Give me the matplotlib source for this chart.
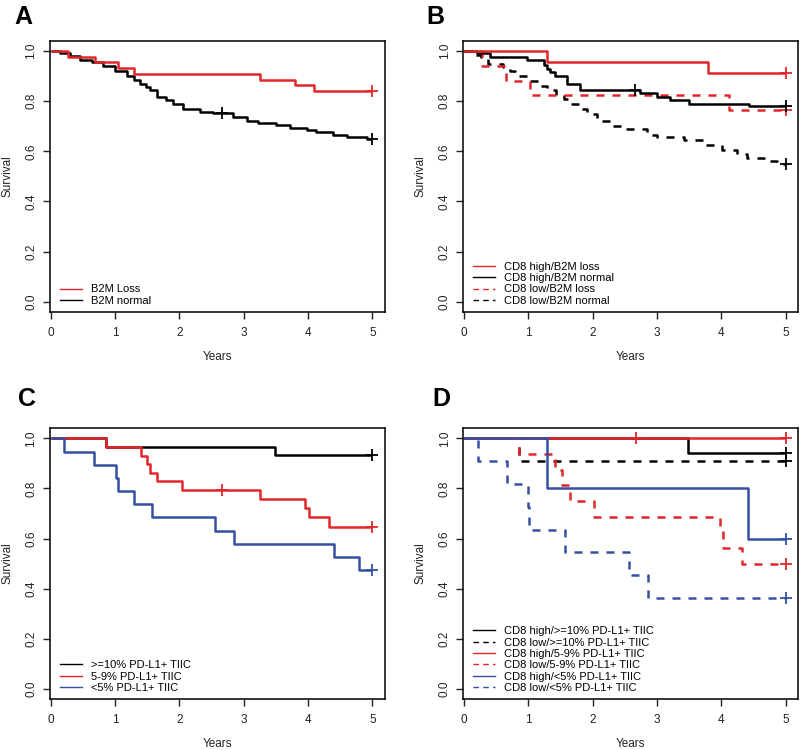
import matplotlib
matplotlib.use("Agg")
import matplotlib.pyplot as plt
from matplotlib.lines import Line2D

plt.rcParams['font.family'] = ['Liberation Sans', 'DejaVu Sans']

# ---------------- data ----------------
# Panel A
a_loss_t = [0.27, 0.69, 1.04, 1.30, 3.25, 3.80, 4.10]
a_loss_s = [0.977, 0.955, 0.932, 0.909, 0.886, 0.864, 0.841]
a_loss_c = [5.0]
a_norm_t = [0.15, 0.30, 0.46, 0.64, 0.82, 1.00, 1.18, 1.30, 1.39, 1.48, 1.54, 1.65,
            1.80, 1.90, 2.06, 2.32, 2.53, 2.84, 3.05, 3.23, 3.51, 3.72, 3.98, 4.13,
            4.39, 4.60, 4.91]
a_norm_s = [0.99, 0.98, 0.965, 0.955, 0.94, 0.92, 0.90, 0.885, 0.87, 0.855, 0.845, 0.815,
            0.806, 0.788, 0.768, 0.758, 0.751, 0.738, 0.722, 0.712, 0.704, 0.694, 0.686,
            0.677, 0.663, 0.655, 0.648]
a_norm_c = [2.67, 5.0]
a_labels = ["B2M Loss", "B2M normal"]

# Panel B
b_hl_t = [1.29, 3.80]
b_hl_s = [0.956, 0.912]
b_hl_c = [5.0]
b_hn_t = [0.20, 0.40, 0.98, 1.24, 1.29, 1.34, 1.42, 1.60, 1.80, 2.74, 3.00, 3.20, 3.50, 4.43]
b_hn_s = [0.99, 0.974, 0.963, 0.945, 0.93, 0.915, 0.90, 0.87, 0.845, 0.832, 0.817, 0.803,
          0.79, 0.779]
b_hn_c = [2.66, 5.0]
b_ll_t = [0.28, 0.66, 1.03, 4.12]
b_ll_s = [0.941, 0.882, 0.824, 0.765]
b_ll_c = [5.0]
b_ln_t = [0.18, 0.27, 0.38, 0.61, 0.72, 0.80, 1.00, 1.18, 1.29, 1.44, 1.55, 1.65, 1.80,
          1.91, 2.07, 2.27, 2.53, 2.85, 3.00, 3.42, 3.73, 4.01, 4.25, 4.40, 4.66, 4.87]
b_ln_s = [0.985, 0.97, 0.95, 0.935, 0.92, 0.90, 0.88, 0.86, 0.845, 0.825, 0.81, 0.79,
          0.77, 0.75, 0.72, 0.70, 0.69, 0.665, 0.655, 0.645, 0.625, 0.605, 0.59, 0.575,
          0.562, 0.55]
b_ln_c = [5.0]
b_labels = ["CD8 high/B2M loss", "CD8 high/B2M normal", "CD8 low/B2M loss", "CD8 low/B2M normal"]

# Panel C
c_hi_t = [0.86, 3.49]
c_hi_s = [0.967, 0.933]
c_hi_c = [5.0]
c_mid_t = [0.86, 1.41, 1.49, 1.54, 1.65, 2.04, 3.25, 3.95, 4.02, 4.33]
c_mid_s = [0.966, 0.931, 0.897, 0.862, 0.828, 0.793, 0.757, 0.722, 0.686, 0.648]
c_mid_c = [2.67, 5.0]
c_lo_t = [0.21, 0.68, 1.02, 1.04, 1.30, 1.58, 2.55, 2.85, 4.40, 4.80]
c_lo_s = [0.947, 0.895, 0.842, 0.789, 0.737, 0.684, 0.632, 0.579, 0.526, 0.474]
c_lo_c = [5.0]
c_labels = [">=10% PD-L1+ TIIC", "5-9% PD-L1+ TIIC", "<5% PD-L1+ TIIC"]

# Panel D
d_hh_t = [3.48]
d_hh_s = [0.941]
d_hh_c = [5.0]
d_lh_t = [0.86]
d_lh_s = [0.909]
d_lh_c = [5.0]
d_hm_t = []
d_hm_s = []
d_hm_c = [2.67, 5.0]
d_lm_t = [0.86, 1.42, 1.53, 1.65, 2.03, 3.98, 4.03, 4.33]
d_lm_s = [0.9375, 0.875, 0.8125, 0.75, 0.6875, 0.625, 0.5625, 0.5]
d_lm_c = [5.0]
d_hl_t = [1.29, 4.42]
d_hl_s = [0.8, 0.6]
d_hl_c = [5.0]
d_ll_t = [0.22, 0.67, 1.00, 1.02, 1.57, 2.56, 2.86]
d_ll_s = [0.909, 0.818, 0.727, 0.636, 0.545, 0.455, 0.364]
d_ll_c = [5.0]
d_labels = ["CD8 high/>=10% PD-L1+ TIIC", "CD8 low/>=10% PD-L1+ TIIC",
            "CD8 high/5-9% PD-L1+ TIIC", "CD8 low/5-9% PD-L1+ TIIC",
            "CD8 high/<5% PD-L1+ TIIC", "CD8 low/<5% PD-L1+ TIIC"]

x_ticks = [0, 1, 2, 3, 4, 5]
y_ticks = [0.0, 0.2, 0.4, 0.6, 0.8, 1.0]
END = 5.0

# ---------------- style ----------------
RED = '#E3262A'
BLUE = '#3550A2'
BLACK = '#000000'
LW = 1.8
DASH = (3.2, 3.2)


def km(ax, t, s, c, color, dashed=False):
    xs = [0.0] + list(t) + [END]
    ys = [1.0] + list(s) + [s[-1] if len(s) else 1.0]
    ln, = ax.step(xs, ys, where='post', color=color, lw=LW, solid_capstyle='butt')
    if dashed:
        ln.set_dashes(DASH)
    # censor marks
    for ct in c:
        val = 1.0
        for tt, ss in zip(t, s):
            if tt <= ct:
                val = ss
        ax.plot([ct], [val], marker='+', ms=9, mew=1.3, color=color, ls='none')


def setup(ax):
    ax.set_xlim(-0.01, 5.2)
    ax.set_ylim(-0.04, 1.04)
    ax.set_xticks(x_ticks)
    ax.set_xticklabels([str(v) for v in x_ticks])
    ax.set_yticks(y_ticks)
    ax.set_yticklabels(["%.1f" % v for v in y_ticks], rotation=90, va='center')
    ax.tick_params(axis='both', direction='out', length=5, width=1, labelsize=8.5, colors='#222222')
    ax.tick_params(axis='x', pad=6)
    ax.tick_params(axis='y', pad=4)
    for sp in ax.spines.values():
        sp.set_linewidth(1.1)
    ax.set_xlabel('Years', fontsize=8.5, color='#222222')
    ax.set_ylabel('Survival', fontsize=8.5, color='#222222')
    ax.xaxis.set_label_coords(0.5, -0.167)
    ax.xaxis.label.set_va('center')
    ax.yaxis.set_label_coords(-0.127, 0.5)
    ax.yaxis.label.set_va('center')


def legend(ax, labels, colors, dashes):
    handles = []
    for lab, col, d in zip(labels, colors, dashes):
        h = Line2D([0], [0], color=col, lw=1.0)
        if d:
            h.set_dashes((4, 3))
        handles.append(h)
    ax.legend(handles, labels, loc='lower left', bbox_to_anchor=(0.03, 0.022),
              frameon=False, fontsize=8, handlelength=2.0, handletextpad=0.8,
              labelspacing=0.12, borderpad=0, borderaxespad=0)


fig = plt.figure(figsize=(8, 7.5), dpi=100)
W, H = 0.419, 0.361
axA = fig.add_axes([0.0625, 0.5844, W, H])
axB = fig.add_axes([0.579, 0.5844, W, H])
axC = fig.add_axes([0.0625, 0.068, W, H])
axD = fig.add_axes([0.579, 0.068, W, H])

# A
km(axA, a_norm_t, a_norm_s, a_norm_c, BLACK)
km(axA, a_loss_t, a_loss_s, a_loss_c, RED)
setup(axA)
legend(axA, a_labels, [RED, BLACK], [False, False])

# B
km(axB, b_ln_t, b_ln_s, b_ln_c, BLACK, dashed=True)
km(axB, b_ll_t, b_ll_s, b_ll_c, RED, dashed=True)
km(axB, b_hn_t, b_hn_s, b_hn_c, BLACK)
km(axB, b_hl_t, b_hl_s, b_hl_c, RED)
setup(axB)
legend(axB, b_labels, [RED, BLACK, RED, BLACK], [False, False, True, True])

# C
km(axC, c_hi_t, c_hi_s, c_hi_c, BLACK)
km(axC, c_mid_t, c_mid_s, c_mid_c, RED)
km(axC, c_lo_t, c_lo_s, c_lo_c, BLUE)
setup(axC)
legend(axC, c_labels, [BLACK, RED, BLUE], [False, False, False])

# D
km(axD, d_hh_t, d_hh_s, d_hh_c, BLACK)
km(axD, d_lh_t, d_lh_s, d_lh_c, BLACK, dashed=True)
km(axD, d_hm_t, d_hm_s, d_hm_c, RED)
km(axD, d_lm_t, d_lm_s, d_lm_c, RED, dashed=True)
km(axD, d_hl_t, d_hl_s, d_hl_c, BLUE)
km(axD, d_ll_t, d_ll_s, d_ll_c, BLUE, dashed=True)
setup(axD)
legend(axD, d_labels, [BLACK, BLACK, RED, RED, BLUE, BLUE],
       [False, True, False, True, False, True])

# panel letters
for lab, x, y in [('A', 0.018, 0.993), ('B', 0.533, 0.993), ('C', 0.022, 0.484), ('D', 0.541, 0.484)]:
    fig.text(x, y, lab, fontsize=18, fontweight='bold', va='top', ha='left')

fig.savefig('out.png', dpi=100)
